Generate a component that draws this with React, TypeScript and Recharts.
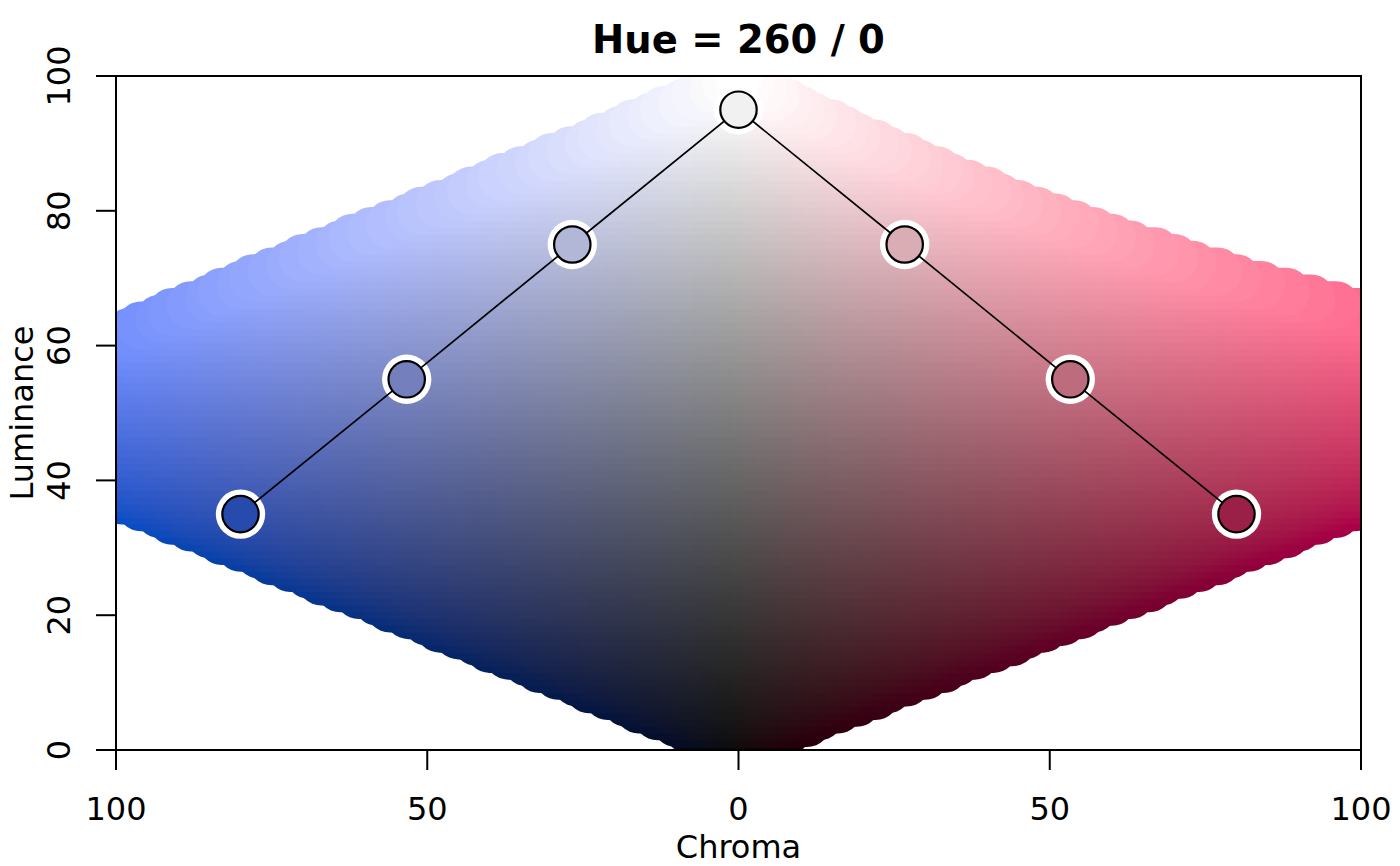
import React from 'react';
import { ScatterChart, XAxis, YAxis, Scatter, ReferenceArea, Label } from 'recharts';

// ---- data ----
const hues = [260, 0]; // left side hue, right side hue
const paletteChroma = [-80, -53.3, -26.7, 0, 26.7, 53.3, 80];
const paletteLuminance = [35, 55, 75, 95, 75, 55, 35];
const xTicks = [-100, -50, 0, 50, 100];
const yTicks = [0, 20, 40, 60, 80, 100];
const titleText = 'Hue = 260 / 0';
const xLabel = 'Chroma';
const yLabel = 'Luminance';

const FONT = '"DejaVu Sans", sans-serif';
const W = 1400;
const H = 866;
const MARGIN = { top: 76, right: 39, bottom: 0, left: 0 };
const X_AXIS_H = 116;
const Y_AXIS_W = 116;
const BG_R = 24; // background disc radius (px)
const SHIFT = 1.5; // visible colour shift of overlapping discs (chroma units)

// ---- HCL (polarLUV) -> sRGB, as in colorspace ----
const XN = 95.047, YN = 100.0, ZN = 108.883;
const tW = XN + YN + ZN;
const xw = XN / tW, yw = YN / tW;
const uN = (2 * xw) / (6 * yw - xw + 1.5);
const vN = (4.5 * yw) / (6 * yw - xw + 1.5);
const gtrans = (u: number) => (u > 0.00304 ? 1.055 * Math.pow(u, 1 / 2.4) - 0.055 : 12.92 * u);

function hclToSrgb(L: number, C: number, Hh: number): number[] | null {
  const h = (Hh * Math.PI) / 180;
  const U = C * Math.cos(h);
  const V = C * Math.sin(h);
  let X = 0, Y = 0, Z = 0;
  if (L <= 0) {
    if (C !== 0) return null;
  } else {
    Y = YN * (L > 7.999592 ? Math.pow((L + 16) / 116, 3) : L / 903.3);
    const u = U / (13 * L) + uN;
    const v = V / (13 * L) + vN;
    X = (9.0 * Y * u) / (4 * v);
    Z = -X / 3 - 5 * Y + (3 * Y) / v;
  }
  const r = gtrans((3.240479 * X - 1.53715 * Y - 0.498535 * Z) / YN);
  const g = gtrans((-0.969256 * X + 1.875992 * Y + 0.041556 * Z) / YN);
  const b = gtrans((0.055648 * X - 0.204043 * Y + 1.057311 * Z) / YN);
  return [r, g, b];
}
const inGamut = (rgb: number[] | null) => !!rgb && rgb.every((v) => v >= -1e-4 && v <= 1 + 1e-4);
const toHex = (rgb: number[] | null) => {
  if (!rgb) return '#000000';
  return (
    '#' +
    rgb
      .map((v) => Math.round(Math.min(1, Math.max(0, v)) * 255).toString(16).padStart(2, '0'))
      .join('')
  );
};
const hclHex = (L: number, C: number, Hh: number) => toHex(hclToSrgb(L, C, Hh));
const signedHex = (L: number, c: number) => (c < 0 ? hclHex(L, -c, hues[0]) : hclHex(L, c, hues[1]));

function maxChroma(L: number, Hh: number) {
  let c = 0;
  for (let k = 1; k <= 100; k++) {
    if (inGamut(hclToSrgb(L, k, Hh))) c = k;
    else break;
  }
  return c;
}

// colour-space rows (one per luminance level) for the background
const luminanceLevels = Array.from({ length: 101 }, (_, i) => i);
const bgRows = luminanceLevels.map((L) => ({ L, cl: maxChroma(L, hues[0]), cr: maxChroma(L, hues[1]) }));

const paletteData = paletteChroma.map((c, i) => ({
  c,
  l: paletteLuminance[i],
  fill: signedHex(paletteLuminance[i], c),
}));

const RowShape = (props: any) => {
  const { x, y, width, height, clipPath, row } = props;
  const r = BG_R;
  const cy = y + height / 2;
  const totalW = width + 2 * r;
  const span = row.cl + row.cr;
  const stops: { o: number; col: string }[] = [];
  const colAt = (c: number) => signedHex(row.L, Math.max(-row.cl, Math.min(row.cr, c + SHIFT)));
  if (span <= 0) {
    stops.push({ o: 0, col: colAt(0) }, { o: 1, col: colAt(0) });
  } else {
    const cs: number[] = [];
    for (let c = -row.cl; c < row.cr; c += 2) cs.push(c);
    cs.push(row.cr);
    stops.push({ o: 0, col: colAt(-row.cl) });
    cs.forEach((c) => stops.push({ o: (((c + row.cl) / span) * width + r) / totalW, col: colAt(c) }));
    stops.push({ o: 1, col: colAt(row.cr) });
  }
  const id = `bgrow-${row.L}`;
  return (
    <g clipPath={clipPath}>
      <defs>
        <linearGradient id={id} x1="0" x2="1" y1="0" y2="0">
          {stops.map((s, i) => (
            <stop key={i} offset={s.o} stopColor={s.col} />
          ))}
        </linearGradient>
      </defs>
      <rect x={x - r} y={cy - r} width={totalW} height={2 * r} rx={r} ry={r} fill={`url(#${id})`} />
    </g>
  );
};

const XTick = (p: any) => (
  <text x={p.x} y={p.y + 50} textAnchor="middle" fontFamily={FONT} fontSize={32} fill="#000">
    {Math.abs(p.payload.value)}
  </text>
);
const YTick = (p: any) => {
  const bx = p.x - 26;
  return (
    <text
      x={bx}
      y={p.y}
      transform={`rotate(-90, ${bx}, ${p.y})`}
      textAnchor="middle"
      fontFamily={FONT}
      fontSize={32}
      fill="#000"
    >
      {p.payload.value}
    </text>
  );
};

export default function App() {
  const plotLeft = MARGIN.left + Y_AXIS_W;
  const plotRight = W - MARGIN.right;
  return (
    <div style={{ position: 'absolute', left: 0, top: 0, width: W, height: H, background: '#fff' }}>
      <ScatterChart width={W} height={H} margin={MARGIN}>
        <XAxis
          type="number"
          dataKey="c"
          domain={[-100, 100]}
          ticks={xTicks}
          interval={0}
          height={X_AXIS_H}
          tickSize={20}
          tickMargin={0}
          axisLine={false}
          tickLine={{ stroke: '#000', strokeWidth: 2 }}
          tick={<XTick />}
          allowDataOverflow
        >
          <Label
            content={(p: any) => (
              <text
                x={p.viewBox.x + p.viewBox.width / 2}
                y={p.viewBox.y + 108}
                textAnchor="middle"
                fontFamily={FONT}
                fontSize={32}
                fill="#000"
              >
                {xLabel}
              </text>
            )}
          />
        </XAxis>
        <YAxis
          type="number"
          dataKey="l"
          domain={[0, 100]}
          ticks={yTicks}
          interval={0}
          width={Y_AXIS_W}
          tickSize={20}
          tickMargin={0}
          axisLine={false}
          tickLine={{ stroke: '#000', strokeWidth: 2 }}
          tick={<YTick />}
          allowDataOverflow
        >
          <Label
            content={(p: any) => {
              const lx = 33;
              const ly = p.viewBox.y + p.viewBox.height / 2;
              return (
                <text
                  x={lx}
                  y={ly}
                  transform={`rotate(-90, ${lx}, ${ly})`}
                  textAnchor="middle"
                  fontFamily={FONT}
                  fontSize={32}
                  fill="#000"
                >
                  {yLabel}
                </text>
              );
            }}
          />
        </YAxis>
        {bgRows.map((row) => (
          <ReferenceArea
            key={row.L}
            x1={-row.cl}
            x2={row.cr}
            y1={row.L - 0.25}
            y2={row.L + 0.25}
            ifOverflow="hidden"
            shape={(p: any) => <RowShape {...p} row={row} />}
          />
        ))}
        <ReferenceArea
          x1={-100}
          x2={100}
          y1={0}
          y2={100}
          ifOverflow="visible"
          fill="none"
          stroke="#000"
          strokeWidth={2}
          fillOpacity={0}
        />
        <Scatter
          data={paletteData}
          isAnimationActive={false}
          shape={(p: any) => <circle cx={p.cx} cy={p.cy} r={24.7} fill="#ffffff" />}
        />
        <Scatter
          data={paletteData}
          isAnimationActive={false}
          line={{ stroke: '#000', strokeWidth: 1.7 }}
          lineJointType="linear"
          shape={(p: any) => (
            <circle cx={p.cx} cy={p.cy} r={18.2} fill={p.payload.fill} stroke="#000" strokeWidth={2.2} />
          )}
        />
      </ScatterChart>
      <svg
        width={W}
        height={70}
        style={{ position: 'absolute', left: 0, top: 0, pointerEvents: 'none' }}
      >
        <text
          x={(plotLeft + plotRight) / 2}
          y={53}
          textAnchor="middle"
          fontFamily={FONT}
          fontWeight="bold"
          fontSize={38.5}
          fill="#000"
        >
          {titleText}
        </text>
      </svg>
    </div>
  );
}
